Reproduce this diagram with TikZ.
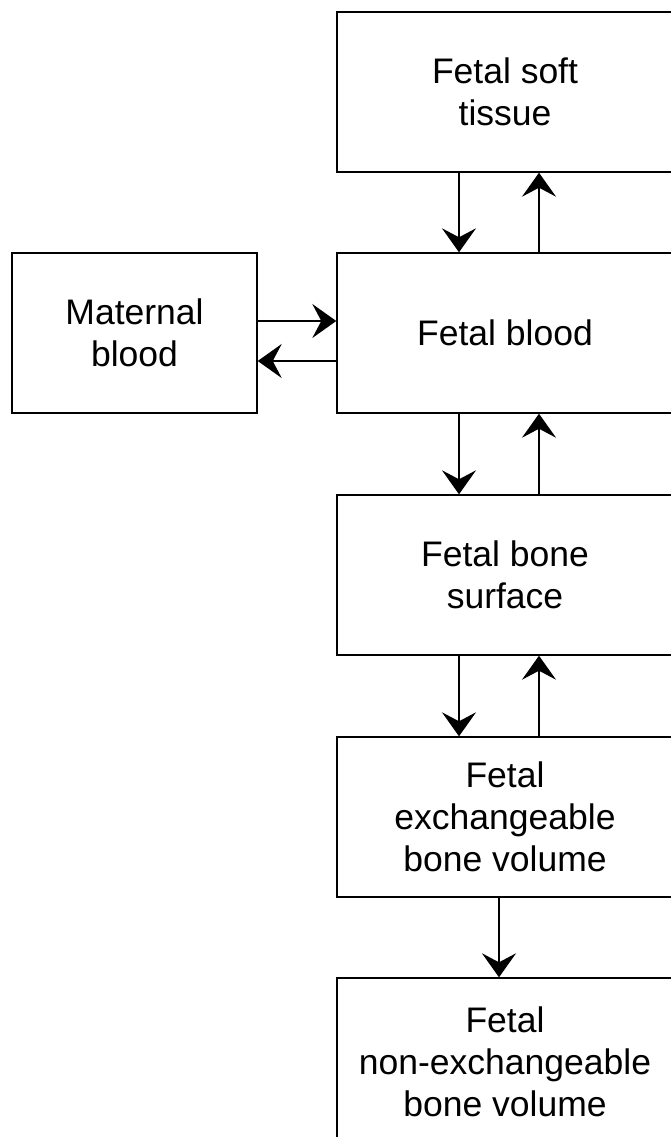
\documentclass[tikz,border=0pt]{standalone}
\usepackage{fontspec}
\setmainfont{Liberation Sans}
\usetikzlibrary{arrows.meta}
\tikzset{
  pool/.style={draw, line width=1.4pt, align=center, minimum height=160pt, inner sep=0pt,
    font=\fontsize{35.5}{42}\selectfont},
  flow/.style={line width=2pt, -{Stealth[length=24pt, width=34pt, inset=9pt]}}
}
\begin{document}
\begin{tikzpicture}[x=1pt, y=-1pt]
\useasboundingbox (0,0) rectangle (671,1137);
\clip (0,0) rectangle (671,1137);
				\node[pool, minimum width=336pt] (soft) at (505,92) {Fetal soft\\tissue};
				\node[pool, minimum width=336pt] (blood) at (505,333) {Fetal blood};
				\node[pool, minimum width=245pt] (mat) at (134.5,333) {Maternal\\blood};
				\node[pool, minimum width=336pt] (surf) at (505,575) {Fetal bone\\surface};
				\node[pool, minimum width=336pt] (exch) at (505,817) {Fetal\\exchangeable\\bone volume};
				\node[pool, minimum width=336pt, minimum height=168pt] (nonex) at (505,1062) {Fetal\\non-exchangeable\\bone volume};
				\draw[flow] ([xshift=-46pt]soft.south)--([xshift=-46pt]blood.north);
				\draw[flow] ([xshift=34pt]blood.north)--([xshift=34pt]soft.south);
				\draw[flow] ([yshift=12pt]mat.east)--([yshift=12pt]blood.west);
				\draw[flow] ([yshift=-28pt]blood.west)--([yshift=-28pt]mat.east);
				\draw[flow] ([xshift=-46pt]blood.south)--([xshift=-46pt]surf.north);
				\draw[flow] ([xshift=34pt]surf.north)--([xshift=34pt]blood.south);
				\draw[flow] ([xshift=-46pt]surf.south)--([xshift=-46pt]exch.north);
				\draw[flow] ([xshift=34pt]exch.north)--([xshift=34pt]surf.south);
				\draw[flow] ([xshift=-6pt]exch.south)--([xshift=-6pt]nonex.north);
\end{tikzpicture}
\end{document}
